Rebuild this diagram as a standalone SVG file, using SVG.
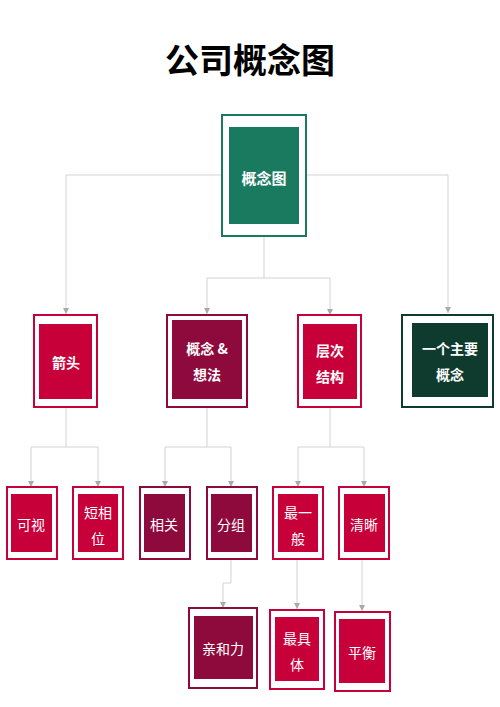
<svg xmlns="http://www.w3.org/2000/svg" width="500" height="707" viewBox="0 0 500 707">
<defs>
<style>
.bg{fill:#ffffff}
.title{font-family:"Noto Sans CJK SC","Liberation Sans",sans-serif;font-size:34px;font-weight:bold;fill:#000}
.t{font-family:"Noto Sans CJK SC","Liberation Sans",sans-serif;font-size:14px;fill:#fff;text-anchor:middle;dominant-baseline:central}
.b{font-weight:bold}
.r{font-size:15px}
.frame{fill:#fff;stroke-width:2}
.green .frame{stroke:#1a7a5e}.green .inner{fill:#1a7a60}
.red .frame{stroke:#c8003a}.red .inner{fill:#c8003a}
.wine .frame{stroke:#8e0a3c}.wine .inner{fill:#8e0a3c}
.dark .frame{stroke:#0e3b2e}.dark .inner{fill:#0e3b2e}
.conn{fill:none;stroke:#d3d3d3;stroke-width:1}
</style>
<marker id="arr" viewBox="0 0 6 6" refX="6" refY="3" markerWidth="6" markerHeight="6" orient="auto" markerUnits="userSpaceOnUse">
<path d="M0,0 L6,3 L0,6 z" fill="#aaaaaa"/>
</marker>
</defs>
<rect class="bg" x="0" y="0" width="500" height="707"/>
<text class="title" x="250" y="73" text-anchor="middle">公司概念图</text>
<g id="connectors">
<path class="conn" d="M222,175 H66 V314" marker-end="url(#arr)"/>
<path class="conn" d="M307,175 H448 V313" marker-end="url(#arr)"/>
<path class="conn" d="M264,237 V278 H207 V314" marker-end="url(#arr)"/>
<path class="conn" d="M264,278 H330 V315" marker-end="url(#arr)"/>
<path class="conn" d="M66,408 V447 H31 V487" marker-end="url(#arr)"/>
<path class="conn" d="M66,447 H98 V487" marker-end="url(#arr)"/>
<path class="conn" d="M207,408 V447 H165 V487" marker-end="url(#arr)"/>
<path class="conn" d="M207,447 H231 V487" marker-end="url(#arr)"/>
<path class="conn" d="M330,408 V447 H298 V487" marker-end="url(#arr)"/>
<path class="conn" d="M330,447 H364 V487" marker-end="url(#arr)"/>
<path class="conn" d="M231,559 V583 H223 V608" marker-end="url(#arr)"/>
<path class="conn" d="M297,560 V609" marker-end="url(#arr)"/>
<path class="conn" d="M362,560 V611" marker-end="url(#arr)"/>
</g>
<g id="n-root" class="green">
<rect class="frame" x="222" y="115" width="84" height="121"/>
<rect class="inner" x="229" y="127" width="70" height="97"/>
<text class="t b r" x="264" y="177">概念图</text>
</g>
<g id="n-arrow" class="red">
<rect class="frame" x="34" y="315" width="63" height="92"/>
<rect class="inner" x="39" y="324" width="53" height="75"/>
<text class="t b" x="66" y="362">箭头</text>
</g>
<g id="n-idea" class="wine">
<rect class="frame" x="167" y="315" width="80" height="92"/>
<rect class="inner" x="172" y="320" width="70" height="79"/>
<text class="t b" x="207" y="348">概念 &amp;</text>
<text class="t b" x="207" y="374">想法</text>
</g>
<g id="n-hier" class="red">
<rect class="frame" x="298" y="315" width="63" height="92"/>
<rect class="inner" x="303" y="324" width="54" height="75"/>
<text class="t b" x="330" y="350">层次</text>
<text class="t b" x="330" y="376">结构</text>
</g>
<g id="n-main" class="dark">
<rect class="frame" x="402" y="315" width="91" height="92"/>
<rect class="inner" x="412" y="323" width="76" height="74"/>
<text class="t b" x="450" y="348">一个主要</text>
<text class="t b" x="450" y="374">概念</text>
</g>
<g id="n-visual" class="red">
<rect class="frame" x="7" y="487" width="50" height="72"/>
<rect class="inner" x="11" y="494" width="41" height="58"/>
<text class="t" x="31" y="524">可视</text>
</g>
<g id="n-short" class="red">
<rect class="frame" x="73" y="487" width="50" height="72"/>
<rect class="inner" x="78" y="494" width="40" height="58"/>
<text class="t" x="98" y="512">短相</text>
<text class="t" x="98" y="538">位</text>
</g>
<g id="n-rel" class="wine">
<rect class="frame" x="140" y="487" width="50" height="72"/>
<rect class="inner" x="144" y="494" width="41" height="58"/>
<text class="t" x="164" y="524">相关</text>
</g>
<g id="n-group" class="wine">
<rect class="frame" x="207" y="487" width="50" height="72"/>
<rect class="inner" x="211" y="494" width="41" height="58"/>
<text class="t" x="231" y="524">分组</text>
</g>
<g id="n-general" class="red">
<rect class="frame" x="273" y="487" width="50" height="72"/>
<rect class="inner" x="278" y="494" width="40" height="58"/>
<text class="t" x="298" y="512">最一</text>
<text class="t" x="298" y="538">般</text>
</g>
<g id="n-clear" class="red">
<rect class="frame" x="339" y="487" width="50" height="72"/>
<rect class="inner" x="344" y="494" width="41" height="58"/>
<text class="t" x="364" y="524">清晰</text>
</g>
<g id="n-affinity" class="wine">
<rect class="frame" x="189" y="608" width="68" height="80"/>
<rect class="inner" x="194" y="616" width="59" height="63"/>
<text class="t" x="223" y="648">亲和力</text>
</g>
<g id="n-specific" class="red">
<rect class="frame" x="270" y="610" width="54" height="79"/>
<rect class="inner" x="275" y="617" width="44" height="64"/>
<text class="t" x="297" y="638">最具</text>
<text class="t" x="297" y="664">体</text>
</g>
<g id="n-balance" class="red">
<rect class="frame" x="335" y="612" width="55" height="79"/>
<rect class="inner" x="339" y="619" width="46" height="64"/>
<text class="t" x="362" y="652">平衡</text>
</g>
</svg>
